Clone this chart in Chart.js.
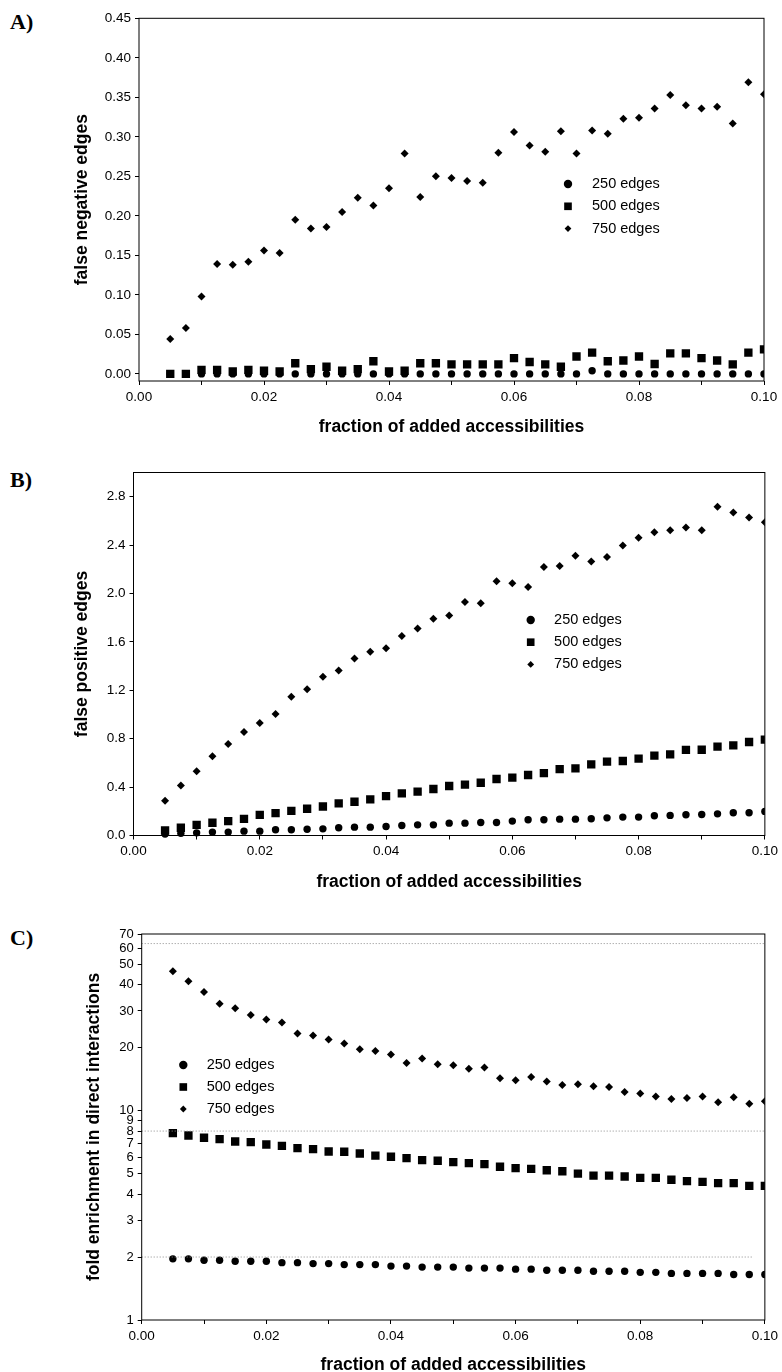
<!DOCTYPE html>
<html>
<head>
<meta charset="utf-8">
<script src="https://cdn.jsdelivr.net/npm/chart.js@4.4.1/dist/chart.umd.min.js"></script>
<style>
  body { margin: 0; width: 782px; height: 1372px; overflow: hidden; background: #fff; position: relative; }
  canvas { position: absolute; left: 0; }
  .tag { position: absolute; left: 10px; font: bold 22px "Liberation Serif", "Times New Roman", serif; line-height: 1; color: #000; }
</style>
</head>
<body>
<div class="tag" style="top:10.6px">A)</div>
<div class="tag" style="top:468.6px">B)</div>
<div class="tag" style="top:926.6px">C)</div>
<canvas id="chartA" width="782" height="440" style="top:0px"></canvas>
<canvas id="chartB" width="782" height="455" style="top:440px"></canvas>
<canvas id="chartC" width="782" height="490" style="top:895px"></canvas>
<script>
"use strict";
// x positions of the simulations (fraction of added accessibilities)
const fraction = [0.005, 0.0075, 0.01, 0.0125, 0.015, 0.0175, 0.02, 0.0225, 0.025, 0.0275,
    0.03, 0.0325, 0.035, 0.0375, 0.04, 0.0425, 0.045, 0.0475, 0.05, 0.0525,
    0.055, 0.0575, 0.06, 0.0625, 0.065, 0.0675, 0.07, 0.0725, 0.075, 0.0775,
    0.08, 0.0825, 0.085, 0.0875, 0.09, 0.0925, 0.095, 0.0975, 0.1];
const seriesLabels = ["250 edges", "500 edges", "750 edges"];
const xTicks = [0, 0.01, 0.02, 0.03, 0.04, 0.05, 0.06, 0.07, 0.08, 0.09, 0.1];

// A) false negative edges
const falseNeg250 = [0, 0, 0, 0, 0, 0, 0, 0, 0, 0, 0, 0, 0, 0, 0, 0, 0, 0, 0, 0,
    0, 0, 0, 0, 0, 0, 0, 0.004, 0, 0, 0, 0, 0, 0, 0, 0, 0, 0, 0];
const falseNeg500 = [0, 0, 0.005, 0.005, 0.003, 0.005, 0.004, 0.003, 0.0135, 0.006,
    0.009, 0.004, 0.006, 0.016, 0.003, 0.004, 0.0135, 0.0135, 0.012, 0.012,
    0.012, 0.012, 0.020, 0.015, 0.012, 0.009, 0.022, 0.027, 0.016, 0.017,
    0.022, 0.0125, 0.026, 0.026, 0.020, 0.017, 0.012, 0.027, 0.031];
const falseNeg750 = [0.044, 0.058, 0.098, 0.139, 0.138, 0.142, 0.156, 0.153, 0.195, 0.184,
    0.186, 0.205, 0.223, 0.213, 0.235, 0.279, 0.224, 0.250, 0.248, 0.244,
    0.242, 0.280, 0.306, 0.289, 0.281, 0.307, 0.279, 0.308, 0.304, 0.323,
    0.324, 0.336, 0.353, 0.340, 0.336, 0.338, 0.317, 0.369, 0.354];
const yTicksA = [0, 0.05, 0.1, 0.15, 0.2, 0.25, 0.3, 0.35, 0.4, 0.45];

// B) false positive edges
const falsePos250 = [0.012, 0.018, 0.022, 0.028, 0.028, 0.036, 0.036, 0.047, 0.047, 0.052,
    0.055, 0.064, 0.069, 0.069, 0.075, 0.083, 0.088, 0.088, 0.102, 0.102,
    0.108, 0.108, 0.119, 0.130, 0.130, 0.135, 0.135, 0.138, 0.146, 0.152,
    0.152, 0.163, 0.166, 0.171, 0.174, 0.179, 0.188, 0.188, 0.199];
const falsePos500 = [0.041, 0.064, 0.088, 0.105, 0.119, 0.138, 0.171, 0.185, 0.204, 0.221,
    0.240, 0.265, 0.279, 0.298, 0.326, 0.348, 0.362, 0.384, 0.409, 0.420,
    0.436, 0.467, 0.478, 0.500, 0.516, 0.549, 0.555, 0.588, 0.610, 0.616,
    0.635, 0.660, 0.671, 0.707, 0.709, 0.734, 0.745, 0.773, 0.792];
const falsePos750 = [0.287, 0.414, 0.530, 0.655, 0.757, 0.856, 0.929, 1.004, 1.147, 1.209,
    1.311, 1.363, 1.463, 1.518, 1.548, 1.648, 1.711, 1.791, 1.819, 1.930,
    1.919, 2.101, 2.084, 2.054, 2.219, 2.228, 2.313, 2.264, 2.302, 2.396,
    2.460, 2.507, 2.523, 2.545, 2.523, 2.716, 2.669, 2.628, 2.589];
const yTicksB = [0, 0.4, 0.8, 1.2, 1.6, 2.0, 2.4, 2.8];

// C) fold enrichment in direct interactions (log axis)
const fold250 = [1.96, 1.96, 1.93, 1.93, 1.91, 1.91, 1.91, 1.88, 1.88, 1.86,
    1.86, 1.84, 1.84, 1.84, 1.81, 1.81, 1.79, 1.79, 1.79, 1.77,
    1.77, 1.77, 1.75, 1.75, 1.73, 1.73, 1.73, 1.71, 1.71, 1.71,
    1.69, 1.69, 1.67, 1.67, 1.67, 1.67, 1.65, 1.65, 1.65];
const fold500 = [7.82, 7.62, 7.43, 7.32, 7.13, 7.08, 6.90, 6.80, 6.63, 6.56,
    6.39, 6.37, 6.25, 6.11, 6.03, 5.94, 5.81, 5.77, 5.68, 5.62,
    5.56, 5.40, 5.32, 5.28, 5.20, 5.14, 5.01, 4.90, 4.90, 4.85,
    4.78, 4.78, 4.68, 4.61, 4.57, 4.51, 4.51, 4.38, 4.38];
const fold750 = [46.4, 41.6, 37.0, 32.5, 30.9, 28.7, 27.3, 26.4, 23.4, 22.9,
    21.9, 21.0, 19.7, 19.3, 18.6, 16.9, 17.8, 16.7, 16.5, 15.9,
    16.1, 14.3, 14.0, 14.5, 13.8, 13.3, 13.4, 13.1, 13.0, 12.3,
    12.1, 11.7, 11.4, 11.5, 11.7, 11.0, 11.6, 10.8, 11.1];
const yTicksC = [1, 2, 3, 4, 5, 6, 7, 8, 9, 10, 20, 30, 40, 50, 60, 70];
const refLevelsC = [63, 8, 2];
const refEndsC = [0.1, 0.1, 0.098];

Chart.defaults.font.family = '"Liberation Sans", Arial, Helvetica, sans-serif';
Chart.defaults.color = "#000";

const markers = [
    { pointStyle: "circle", radius: 3.7, legendRadius: 4.2 },
    { pointStyle: "rect", radius: 5.9, legendRadius: 5.4 },
    { pointStyle: "rectRot", radius: 4.0, legendRadius: 3.4 }
];

// box around the plot area
const framePlugin = {
    id: "frame",
    afterDraw(chart) {
        const { ctx, chartArea: a } = chart;
        ctx.save();
        ctx.strokeStyle = "#000";
        ctx.lineWidth = 1;
        ctx.strokeRect(a.left, a.top, a.right - a.left, a.bottom - a.top);
        ctx.restore();
    }
};

// legend drawn inside the plot, at a fixed spot
const insideLegend = {
    id: "insideLegend",
    afterDraw(chart, args, opts) {
        const ctx = chart.ctx;
        ctx.save();
        ctx.font = '14.5px "Liberation Sans", Arial, sans-serif';
        ctx.fillStyle = "#000";
        ctx.textBaseline = "middle";
        let row = 0;
        chart.data.datasets.forEach((ds) => {
            if (!ds.legendRadius) return;
            const y = opts.y + row * opts.rowGap;
            Chart.helpers.drawPoint(ctx, { pointStyle: ds.pointStyle, radius: ds.legendRadius, rotation: 0, borderWidth: 0 }, opts.x, y);
            ctx.fillText(ds.label, opts.x + opts.textGap, y);
            row++;
        });
        ctx.restore();
    }
};

function scatterSets(seriesList) {
    return seriesList.map((values, i) => ({
        label: seriesLabels[i],
        data: values.map((v, k) => ({ x: fraction[k], y: v })),
        pointStyle: markers[i].pointStyle,
        pointRadius: markers[i].radius,
        pointHoverRadius: markers[i].radius,
        pointBackgroundColor: "#000",
        pointBorderWidth: 0,
        showLine: false,
        clip: { left: 8, top: 8, right: 0, bottom: 8 },
        legendRadius: markers[i].legendRadius
    }));
}

function makePanel(id, p) {
    return new Chart(document.getElementById(id), {
        type: "scatter",
        data: { datasets: p.datasets },
        plugins: [framePlugin, insideLegend],
        options: {
            responsive: false,
            animation: false,
            events: [],
            layout: { padding: { top: p.top, right: p.right, left: 0, bottom: 0 } },
            plugins: {
                legend: { display: false },
                tooltip: { enabled: false },
                insideLegend: p.legend
            },
            scales: {
                x: {
                    type: "linear",
                    min: 0,
                    max: 0.1,
                    afterBuildTicks: (axis) => { axis.ticks = xTicks.map((v) => ({ value: v })); },
                    afterFit: (axis) => { axis.height = p.xHeight; },
                    ticks: {
                        autoSkip: false,
                        maxRotation: 0,
                        padding: 4,
                        font: { size: 13.5 },
                        callback: (v, i) => (i % 2 === 0 ? v.toFixed(2) : "")
                    },
                    grid: { drawOnChartArea: false, tickLength: 4, color: "#000" },
                    border: { display: false },
                    title: {
                        display: true,
                        text: "fraction of added accessibilities",
                        font: { size: 17.5, weight: "bold" },
                        padding: { top: 0, bottom: p.xTitlePad }
                    }
                },
                y: {
                    type: p.yType,
                    min: p.yMin,
                    max: p.yMax,
                    afterBuildTicks: (axis) => { axis.ticks = p.yTicks.map((v) => ({ value: v })); },
                    afterFit: (axis) => { axis.width = p.left; },
                    ticks: {
                        autoSkip: false,
                        padding: 4,
                        font: { size: p.yFont },
                        callback: p.yLabel
                    },
                    grid: { drawOnChartArea: false, tickLength: 4, color: "#000" },
                    border: { display: false },
                    title: {
                        display: true,
                        text: p.yTitle,
                        font: { size: 17.5, weight: "bold" },
                        padding: { top: p.yTitlePad, bottom: 0 }
                    }
                }
            }
        }
    });
}

makePanel("chartA", {
    datasets: scatterSets([falseNeg250, falseNeg500, falseNeg750]),
    top: 18.3, right: 18, left: 139, xHeight: 59, xTitlePad: 2.5,
    yType: "linear", yMin: -0.009, yMax: 0.45, yTicks: yTicksA, yFont: 13.5,
    yLabel: (v) => v.toFixed(2),
    yTitle: "false negative edges", yTitlePad: 71.5,
    legend: { x: 568, y: 184, rowGap: 22.3, textGap: 24 }
});

makePanel("chartB", {
    datasets: scatterSets([falsePos250, falsePos500, falsePos750]),
    top: 32.5, right: 17, left: 133.5, xHeight: 59.5, xTitlePad: 2.8,
    yType: "linear", yMin: 0, yMax: 3.0, yTicks: yTicksB, yFont: 13.5,
    yLabel: (v) => v.toFixed(1),
    yTitle: "false positive edges", yTitlePad: 71.5,
    legend: { x: 530.7, y: 180, rowGap: 22.2, textGap: 23.4 }
});

// dotted reference levels in panel C
const refSets = refLevelsC.map((level, i) => ({
    type: "line",
    data: [{ x: 0, y: level }, { x: refEndsC[i], y: level }],
    borderColor: "#8c8c8c",
    borderWidth: 1,
    borderDash: [1, 2],
    pointRadius: 0,
    showLine: true
}));

makePanel("chartC", {
    datasets: refSets.concat(scatterSets([fold250, fold500, fold750])),
    top: 39, right: 16, left: 141.7, xHeight: 65, xTitlePad: 9.5,
    yType: "logarithmic", yMin: 1, yMax: 70, yTicks: yTicksC, yFont: 13,
    yLabel: (v) => String(v),
    yTitle: "fold enrichment in direct interactions", yTitlePad: 83.5,
    legend: { x: 183.3, y: 170, rowGap: 22, textGap: 23.4 }
});
</script>
</body>
</html>
